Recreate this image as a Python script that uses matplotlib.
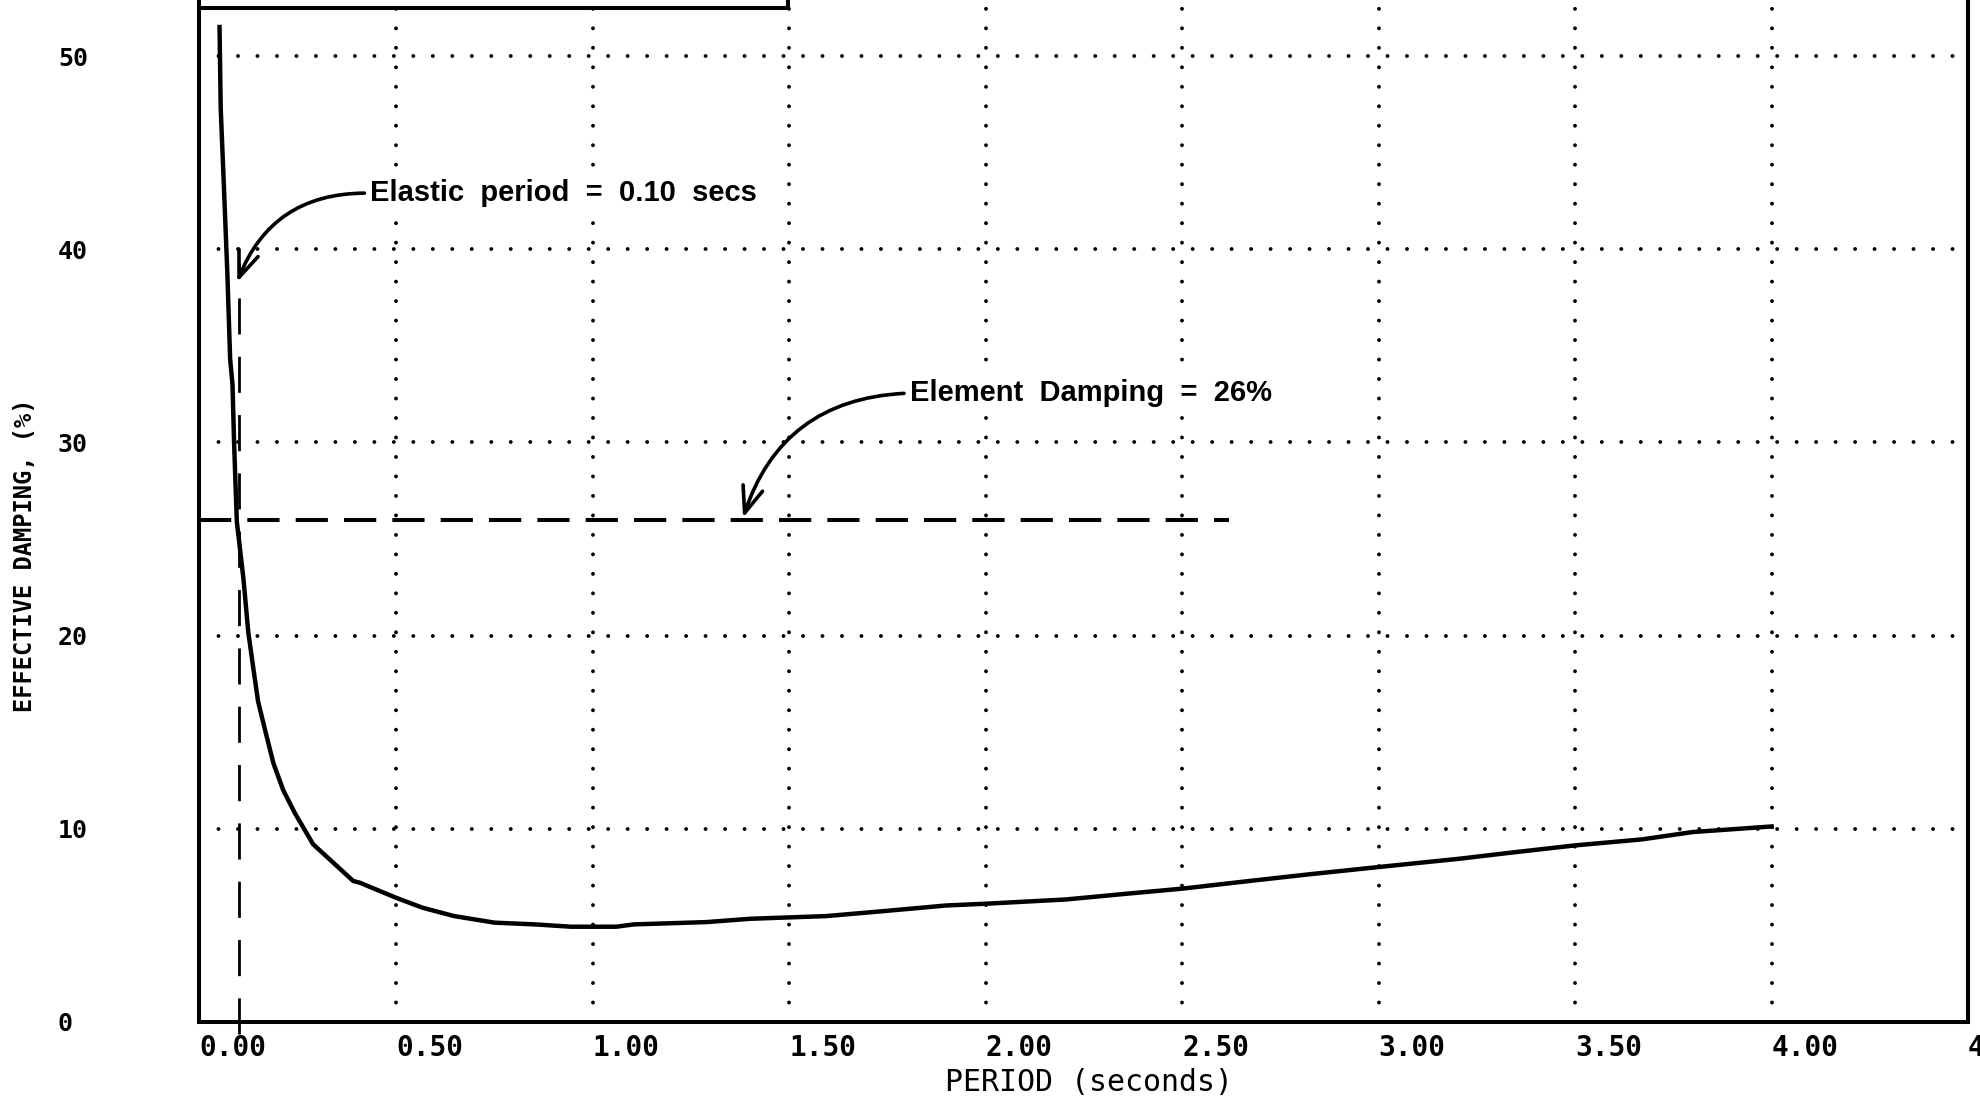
import matplotlib

matplotlib.use("Agg")
import matplotlib.pyplot as plt
from matplotlib.patches import Rectangle

# effective damping vs. period
period = [0.051, 0.054, 0.063, 0.071, 0.078, 0.084, 0.088, 0.095, 0.103, 0.112,
          0.124, 0.137, 0.149, 0.167, 0.188, 0.213, 0.243, 0.289, 0.332, 0.391,
          0.409, 0.500, 0.568, 0.648, 0.751, 0.854, 0.945, 1.060, 1.105, 1.290,
          1.400, 1.594, 1.742, 1.900, 2.000, 2.204, 2.360, 2.500, 2.668, 2.822,
          3.000, 3.206, 3.335, 3.500, 3.670, 3.799, 4.000]
damping = [51.5, 47.3, 42.8, 38.7, 34.3, 33.0, 30.0, 25.9, 24.5, 22.9,
           20.2, 18.3, 16.6, 15.1, 13.4, 12.0, 10.8, 9.2, 8.4, 7.3,
           7.2, 6.43, 5.91, 5.48, 5.14, 5.05, 4.93, 4.93, 5.05, 5.17,
           5.34, 5.48, 5.74, 6.03, 6.12, 6.34, 6.64, 6.9, 7.29, 7.64,
           8.02, 8.45, 8.76, 9.14, 9.45, 9.83, 10.12]

element_damping = 26.0
elastic_period = 0.10

xticks = [0.0, 0.5, 1.0, 1.5, 2.0, 2.5, 3.0, 3.5, 4.0, 4.5]
xtick_labels = ["0.00", "0.50", "1.00", "1.50", "2.00", "2.50", "3.00", "3.50", "4.00", "4.50"]
yticks = [0, 10, 20, 30, 40, 50]
ytick_labels = ["0", "10", "20", "30", "40", "50"]

MONO = "DejaVu Sans Mono"
SANS = "Liberation Sans"

fig = plt.figure(figsize=(19.81, 10.97), dpi=100)
# plotting frame runs off the top of the sheet
ax = fig.add_axes([0.1007, 0.0684, 0.8928, 0.9686])
ax.set_xlim(0, 4.5)
ax.set_ylim(0, 55)

for side in ("left", "right", "bottom"):
    ax.spines[side].set_linewidth(2.9)
ax.spines["top"].set_visible(False)

ax.set_xticks(xticks)
ax.set_xticklabels(xtick_labels, family=MONO, weight="bold", fontsize=20, ha="left")
ax.set_yticks(yticks)
ax.set_yticklabels(ytick_labels, family=MONO, weight="bold", fontsize=18, ha="left")
ax.tick_params(axis="x", length=0, pad=9)
ax.tick_params(axis="y", length=0, pad=102)

ax.grid(True, color="black", linewidth=2.8, linestyle=(0, (0.01, 5.0)),
        dash_capstyle="round")
ax.set_axisbelow(True)

ax.plot(period, damping, color="black", linewidth=3.2, solid_joinstyle="miter")

ax.plot([0.0, 2.62], [element_damping, element_damping], color="black",
        linewidth=2.9, linestyle=(0, (8, 4)))
ax.plot([elastic_period, elastic_period], [-0.6, 39.3], color="black",
        linewidth=2.0, linestyle=(0, (13, 8)), clip_on=False)

ax.add_patch(Rectangle((0, 52.5), 1.497, 10, fill=False, linewidth=2.9,
                       edgecolor="black", clip_on=False))

label_box = dict(boxstyle="square,pad=0.1", facecolor="white", edgecolor="none")
arrow = dict(arrowstyle="->,head_length=0.9,head_width=0.35", color="black",
             linewidth=2.6, relpos=(0, 0.5), shrinkA=2, shrinkB=0)
ax.annotate("Elastic  period  =  0.10  secs", xy=(0.096, 38.3), xytext=(0.434, 42.9),
            ha="left", va="center", family=SANS, weight="bold", fontsize=21,
            bbox=label_box,
            arrowprops=dict(arrow, connectionstyle="arc3,rad=0.35"))
ax.annotate("Element  Damping  =  26%", xy=(1.383, 26.1), xytext=(1.807, 32.55),
            ha="left", va="center", family=SANS, weight="bold", fontsize=21,
            bbox=label_box,
            arrowprops=dict(arrow, connectionstyle="arc3,rad=0.35"))

fig.text(0.5497, 0.0128, "PERIOD (seconds)", family=MONO, fontsize=21.5,
         ha="center", va="center")
fig.text(0.0126, 0.494, "EFFECTIVE DAMPING, (%)", family=MONO, weight="bold",
         fontsize=17, rotation=90, ha="center", va="center")

fig.savefig("out.png", dpi=100)
